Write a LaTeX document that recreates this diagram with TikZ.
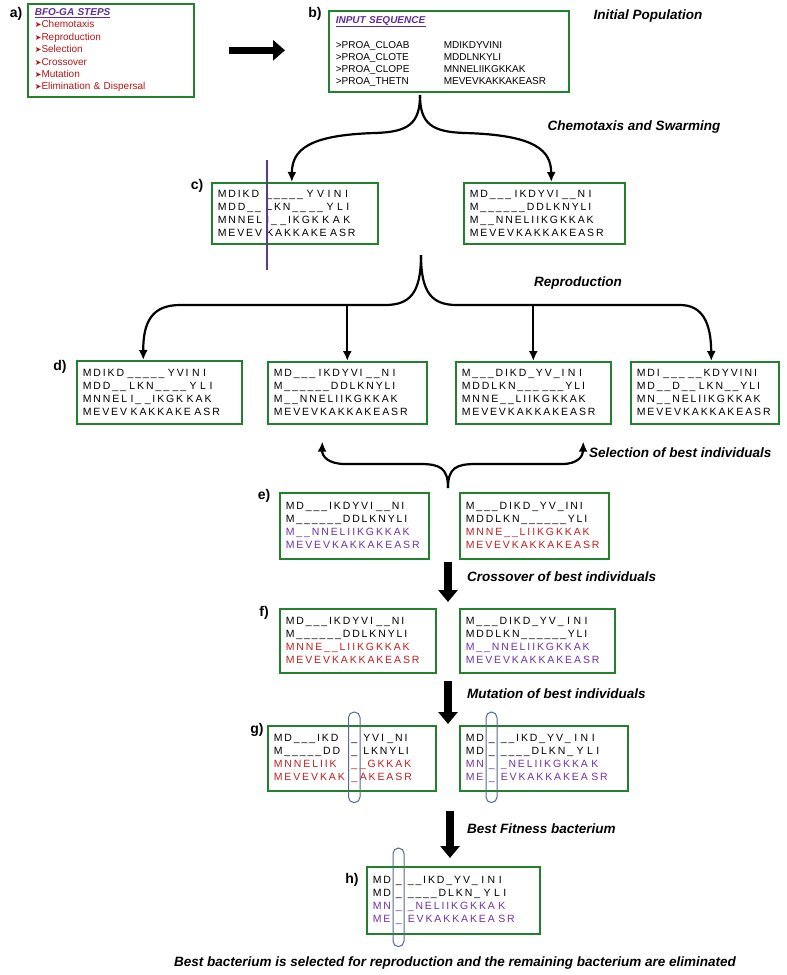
\documentclass[tikz,border=0pt]{standalone}
\usepackage{fontspec}
\setmainfont{Liberation Sans}
\newfontfamily\seqfont[LetterSpace=18]{Liberation Sans}
\newfontfamily\symfont{DejaVu Sans}
\usetikzlibrary{arrows.meta}
\definecolor{boxgreen}{RGB}{35,128,45}
\definecolor{seqred}{RGB}{195,30,30}
\definecolor{itemred}{RGB}{185,20,20}
\definecolor{seqpurple}{RGB}{110,50,165}
\definecolor{headpurple}{RGB}{95,45,150}
\definecolor{cutpurple}{RGB}{90,60,140}
\definecolor{ovalblue}{RGB}{85,105,145}
\newcommand{\lpart}[2]{\makebox[#1][l]{#2}}
\newcommand{\gcol}[1]{\makebox[11pt][c]{#1}}
\newcommand{\stepitem}{{\symfont\fontsize{8}{8}\selectfont ➤}}
\begin{document}
\begin{tikzpicture}[x=1pt,y=-1pt,
  seqbox/.style={draw=boxgreen,line width=1.6pt,anchor=north west,inner xsep=6pt,inner ysep=2pt,
    align=left,minimum height=#1,font=\seqfont\fontsize{10.5}{13}\selectfont},
  seqbox/.default=63pt,
  stepbox/.style={draw=boxgreen,line width=1.6pt,anchor=north west,inner xsep=7pt,inner ysep=2pt,
    align=left,font=\fontsize{10}{12.4}\selectfont},
  steplabel/.style={font=\bfseries\fontsize{14}{14}\selectfont,inner sep=0pt},
  caption/.style={font=\bfseries\itshape\fontsize{13.5}{15}\selectfont,inner sep=0pt},
  branch/.style={line width=2.2pt,-{Latex[length=10pt,width=9pt]}},
  fatarrow/.style={line width=8pt,-{Triangle[length=12pt,width=19pt]}},
  bigarrow/.style={line width=6.5pt,-{Triangle[length=12pt,width=20pt]}},
  cutline/.style={cutpurple,line width=1.8pt},
  oval/.style={ovalblue,line width=1pt,rounded corners=5.5pt}]
\useasboundingbox (0,0) rectangle (787,975);
%\draw[gray,very thin] (0,0) grid[step=50pt] (787,975);

% a) and b)
\node[steplabel] (la) at (16,14) {a)};
\node[stepbox,text width=152pt,minimum height=93pt] (a) at (27,3) {%
{\color{headpurple}\underline{\textbf{\textit{BFO-GA STEPS}}}}\\
{\color{itemred}\stepitem Chemotaxis}\\
{\color{itemred}\stepitem Reproduction}\\
{\color{itemred}\stepitem Selection}\\
{\color{itemred}\stepitem Crossover}\\
{\color{itemred}\stepitem Mutation}\\
{\color{itemred}\stepitem Elimination \& Dispersal}};
\node[steplabel] (lb) at (315,14) {b)};
\node[stepbox,text width=226pt,minimum height=81pt,font=\fontsize{10}{12}\selectfont] (b) at (328,10) {%
{\color{headpurple}\underline{\textbf{\textit{INPUT SEQUENCE}}}}\\[13pt]
\lpart{108pt}{>PROA\_CLOAB}MDIKDYVINI\\
\lpart{108pt}{>PROA\_CLOTE}MDDLNKYLI\\
\lpart{108pt}{>PROA\_CLOPE}MNNELIIKGKKAK\\
\lpart{108pt}{>PROA\_THETN}MEVEVKAKKAKEASR};
\draw[bigarrow,shorten <=34pt,shorten >=43pt] (a.east) -- (a.east -| b.west);
\node[caption] (capinit) at (648,16) {Initial Population};

% c)
\node[steplabel] (lc) at (197,186) {c)};
\node[seqbox=61pt,text width=154pt] (c1) at (211,182) {%
\lpart{48.5pt}{MDIKD}\_\_\_\_\_ Y V I N I\\
\lpart{48.5pt}{MDD\_\_}LKN\_\_ \_\_ Y L I\\
\lpart{48.5pt}{MNNEL}I\_ \_IKGK K A K\\
\lpart{48.5pt}{MEVEV}KAKKAKE ASR};
\node[seqbox=61pt,text width=149pt] (c2) at (463,182) {%
MD\_\_\_ IKDYVI \_\_N I\\
M\_\_\_\_\_\_DDLKNYLI\\
M\_\_NNELIIKGKKAK\\
MEVEVKAKKAKEASR};
\draw[cutline] ([xshift=56pt,yshift=22pt]c1.north west) -- ([xshift=56pt,yshift=-25pt]c1.south west);
\coordinate (chemtip) at (420,95);
\draw[branch] (chemtip) .. controls (420,124) and (408,132) .. (375,133)
  .. controls (308,135) and (292,150) .. ([xshift=-3pt]c1.north);
\draw[branch] (chemtip) .. controls (420,124) and (432,132) .. (465,133)
  .. controls (535,135) and (551,150) .. ([xshift=7pt]c2.north);
\node[caption] (capchem) at (634,127) {Chemotaxis and Swarming};

% d)
\node[steplabel] (ld) at (60,367) {d)};
\node[seqbox,text width=153pt] (d1) at (76,360) {%
MDIKD \_\_\_\_\_ YVI N I\\
MDD\_\_ LKN\_\_ \_\_ Y L I\\
MNNEL I\_ \_IKGK KAK\\
MEVEV KAKKAKE ASR};
\node[seqbox=62pt,text width=147pt] (d2) at (267,361) {%
MD\_\_\_ IKDYVI \_\_N I\\
M\_\_\_\_\_\_DDLKNYLI\\
M\_\_NNELIIKGKKAK\\
MEVEVKAKKAKEASR};
\node[seqbox=62pt,text width=143pt] (d3) at (455,361) {%
M\_\_\_DIKD\_YV\_I N I\\
MDDLKN\_\_\_ \_\_\_YLI\\
MNNE\_\_LIIKGKKAK\\
MEV\,EVKAKKAKEASR};
\node[seqbox=62pt,text width=136pt] (d4) at (630,361) {%
MDI \_\_\_ \_\_KDYVINI\\
MD\_\_D\_\_ LKN\_\_YLI\\
MN\_\_NELIIKGKKAK\\
MEVEVKAKKAKEASR};
\coordinate (reptip) at (421,255);
\coordinate (repbar) at (421,305);
\draw[branch] (reptip) .. controls (421,293) and (410,305) .. (385,305) -- (180,305)
  .. controls (152,305) and (143,322) .. ([xshift=-16pt]d1.north);
\draw[branch] (reptip) .. controls (421,293) and (432,305) .. (457,305) -- (680,305)
  .. controls (702,305) and (711,322) .. ([xshift=6.5pt]d4.north);
\draw[branch] (d2.north |- repbar) -- (d2.north);
\draw[branch] (d3.north |- repbar) -- (d3.north);
\node[caption] (caprep) at (578,283) {Reproduction};

% e)
\node[steplabel] (le) at (264,496) {e)};
\node[seqbox=66pt,text width=137pt] (e1) at (279,492) {%
MD\_\_\_IKDYVI \_\_NI\\
M\_\_\_\_\_\_DDLKNYLI\\
{\color{seqpurple}M\_\_NNELIIKGKKAK}\\
{\color{seqpurple}MEVEVKAKKAKEASR}};
\node[seqbox=66pt,text width=137pt] (e2) at (459,492) {%
M\_\_\_DIKD\_YV\_INI\\
MDDLKN\_\_\_\_\_\_YLI\\
{\color{seqred}MNNE\_\_LIIKGKKAK}\\
{\color{seqred}MEV\,EVKAKKAKEASR}};
\coordinate (seltip) at (448,488);
\draw[branch] (seltip) .. controls (448,468) and (440,464) .. (420,464) -- (345,464)
  .. controls (328,464) and (322,456) .. ([xshift=-25pt,yshift=-17pt]d2.south);
\draw[branch] (seltip) .. controls (448,468) and (456,464) .. (476,464) -- (562,464)
  .. controls (578,464) and (583,456) .. ([xshift=50pt,yshift=-17pt]d3.south);
\node[caption,anchor=west] (capsel) at (589,453) {Selection of best individuals};

% f)
\coordinate (crosstop) at (448,562);
\coordinate (crossend) at (448,602);
\draw[fatarrow] (crosstop) -- (crossend);
\node[caption,anchor=west] (capcross) at (467,577) {Crossover of best individuals};
\node[steplabel] (lf) at (264,613) {f)};
\node[seqbox=64pt,text width=144pt] (f1) at (279,608) {%
MD\_\_\_IKDYVI \_\_NI\\
M\_\_\_\_\_\_DDLKNYLI\\
{\color{seqred}MNNE\_\_LIIKGKKAK}\\
{\color{seqred}MEVEVKAKKA\,KEASR}};
\node[seqbox=64pt,text width=143pt] (f2) at (459,608) {%
M\_\_\_DIKD\_YV\_ I N I\\
MDDLKN\_\_\_\_\_\_YLI\\
{\color{seqpurple}M\_\_NNELIIKGKKAK}\\
{\color{seqpurple}MEVEV\,KAKKAKEASR}};

% g)
\coordinate (muttop) at (448,681);
\coordinate (mutend) at (448,724);
\draw[fatarrow] (muttop) -- (mutend);
\node[caption,anchor=west] (capmut) at (467,694) {Mutation of best individuals};
\node[steplabel] (lg) at (257,730) {g)};
\node[seqbox=65pt,text width=156pt] (g1) at (267,725) {%
\lpart{75pt}{MD\_\_\_IKD}\gcol{\_} YVI \_NI\\
\lpart{75pt}{M\_\_\_\_\_DD}\gcol{\_} LKNYLI\\
{\color{seqred}\lpart{75pt}{MNNELIIK}\gcol{\_}\_GKKAK}\\
{\color{seqred}\lpart{75pt}{MEVEVKAK}\gcol{\_}AKEASR}};
\node[seqbox=65pt,text width=156pt] (g2) at (459,725) {%
\lpart{20.5pt}{MD}\gcol{\_} \_\_IKD\_YV\_ I N I\\
\lpart{20.5pt}{MD}\gcol{\_} \_\_\_\_DLKN\_ Y L I\\
{\color{seqpurple}\lpart{20.5pt}{MN}\gcol{\_} \_NELIIKGKKA K}\\
{\color{seqpurple}\lpart{20.5pt}{ME}\gcol{\_} EVKAKKAKEA SR}};
\draw[oval] ([xshift=81.5pt,yshift=13pt]g1.north west) rectangle ([xshift=93pt,yshift=-11pt]g1.south west);
\draw[oval] ([xshift=27pt,yshift=13pt]g2.north west) rectangle ([xshift=38pt,yshift=-11pt]g2.south west);

% h)
\coordinate (besttop) at (450,811);
\coordinate (bestend) at (450,858);
\draw[fatarrow] (besttop) -- (bestend);
\node[caption,anchor=west] (capbest) at (467,829) {Best Fitness bacterium};
\node[steplabel] (lh) at (352,880) {h)};
\node[seqbox=67pt,text width=161pt] (h) at (366,866) {%
\lpart{20.5pt}{MD}\gcol{\_} \_\_IKD\_YV\_ I N I\\
\lpart{20.5pt}{MD}\gcol{\_} \_\_\_\_DLKN\_ Y L I\\
{\color{seqpurple}\lpart{20.5pt}{MN}\gcol{\_} \_NELIIKGKKA K}\\
{\color{seqpurple}\lpart{20.5pt}{ME}\gcol{\_} EVKAKKAKEA SR}};
\draw[oval] ([xshift=27pt,yshift=18pt]h.north west) rectangle ([xshift=38pt,yshift=-12pt]h.south west);
\node[caption] (capend) at (455,963) {Best bacterium is selected for reproduction and the remaining bacterium are eliminated};
\end{tikzpicture}
\end{document}
